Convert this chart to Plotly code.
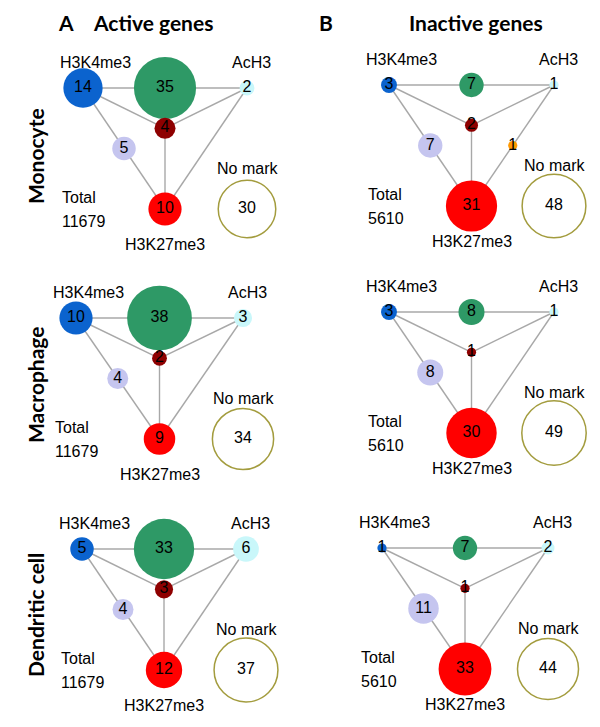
import plotly.graph_objects as go

# ---------------- data ----------------
node_names = ["H3K4me3", "H3K4me3+AcH3", "AcH3", "H3K4me3+AcH3+H3K27me3",
              "H3K4me3+H3K27me3", "AcH3+H3K27me3", "H3K27me3", "No mark"]
cell_types = ["Monocyte", "Macrophage", "Dendritic cell"]

active_monocyte = [14, 35, 2, 4, 5, 0, 10, 30]
active_macrophage = [10, 38, 3, 2, 4, 0, 9, 34]
active_dendritic = [5, 33, 6, 3, 4, 0, 12, 37]

inactive_monocyte = [3, 7, 1, 2, 7, 1, 31, 48]
inactive_macrophage = [3, 8, 1, 1, 8, 0, 30, 49]
inactive_dendritic = [1, 7, 2, 1, 11, 0, 33, 44]

total_active = 11679
total_inactive = 5610

column_titles = [("A", "Active genes"), ("B", "Inactive genes")]

# ---------------- style / layout ----------------
node_colors = ["#0B63CE", "#2E9966", "#C9F7FA", "#8E0000",
               "#C5C5EF", "#FF9900", "#FF0000", "#FFFFFF"]
edge_color = "#A8A8A8"
nomark_outline = "#A39C3E"
FONT = "Liberation Sans, Arial, sans-serif"
BOLD = "Lato, Open Sans, sans-serif"

# panel geometry: (x0, y0, width, height) of the triangle in page pixels
geom_active = [(83, 88, 164, 121), (76, 318, 167, 121), (82, 549, 164, 121)]
geom_inactive = [(389, 85, 165, 121), (389, 312, 165, 121), (382, 548, 166, 121)]
row_label_y = [156, 385, 615]

k_active = 5.25   # radius = k*sqrt(value)
k_inactive = 4.6

fig = go.Figure()


def node_positions(x0, y0, w, h):
    k4 = (x0, y0)
    ac = (x0 + w, y0)
    k27 = (x0 + w / 2, y0 + h)
    mid = lambda a, b: ((a[0] + b[0]) / 2, (a[1] + b[1]) / 2)
    tri = ((k4[0] + ac[0] + k27[0]) / 3, (k4[1] + ac[1] + k27[1]) / 3)
    return [k4, mid(k4, ac), ac, tri, mid(k4, k27), mid(ac, k27), k27, (x0 + w, y0 + h)]


def add_panel(values, geom, k, total):
    x0, y0, w, h = geom
    pos = node_positions(*geom)
    k4, _, ac, tri, _, _, k27, nm = pos
    # edges
    ex, ey = [], []
    for a, b in [(k4, ac), (k4, tri), (ac, tri), (tri, k27), (k4, k27), (ac, k27)]:
        ex += [a[0], b[0], None]
        ey += [a[1], b[1], None]
    fig.add_trace(go.Scatter(x=ex, y=ey, mode="lines",
                             line=dict(color=edge_color, width=1.4),
                             hoverinfo="skip"))
    idx = [i for i, v in enumerate(values) if v > 0]
    fig.add_trace(go.Scatter(
        x=[pos[i][0] for i in idx], y=[pos[i][1] for i in idx],
        mode="markers+text",
        text=[str(values[i]) for i in idx],
        textposition="middle center",
        textfont=dict(family=FONT, size=16, color="black"),
        hovertext=[node_names[i] for i in idx],
        marker=dict(size=[values[i] for i in idx], sizemode="area",
                    sizeref=1.0 / (2 * k * k),
                    color=[node_colors[i] for i in idx],
                    opacity=1,
                    line=dict(color=[nomark_outline if node_names[i] == "No mark" else "rgba(0,0,0,0)" for i in idx],
                              width=[1.5 if node_names[i] == "No mark" else 0 for i in idx])),
    ))
    lab = dict(font=dict(family=FONT, size=16, color="black"), showarrow=False,
               xref="x", yref="y", yanchor="middle")
    fig.add_annotation(x=x0 + 12, y=y0 - 26, text="H3K4me3", xanchor="center", **lab)
    fig.add_annotation(x=x0 + w + 4, y=y0 - 26, text="AcH3", xanchor="center", **lab)
    fig.add_annotation(x=nm[0], y=nm[1] - 41, text="No mark", xanchor="center", **lab)
    fig.add_annotation(x=x0 - 23, y=k27[1] - 12, text="Total", xanchor="left", **lab)
    fig.add_annotation(x=x0 - 23, y=k27[1] + 12, text=str(total), xanchor="left", **lab)
    fig.add_annotation(x=k27[0], y=k27[1] + 35, text="H3K27me3", xanchor="center", **lab)


for vals, g in zip([active_monocyte, active_macrophage, active_dendritic], geom_active):
    add_panel(vals, g, k_active, total_active)
for vals, g in zip([inactive_monocyte, inactive_macrophage, inactive_dendritic], geom_inactive):
    add_panel(vals, g, k_inactive, total_inactive)

bold = dict(font=dict(family=BOLD, size=21, color="black", weight="bold"), showarrow=False,
            xref="x", yref="y", yanchor="middle", xanchor="center")
fig.add_annotation(x=66, y=22, text="A", **bold)
fig.add_annotation(x=153, y=22, text=column_titles[0][1], **bold)
fig.add_annotation(x=326, y=22, text="B", **bold)
fig.add_annotation(x=476, y=22, text=column_titles[1][1], **bold)
for name, yy in zip(cell_types, row_label_y):
    fig.add_annotation(x=35, y=yy, text=name, textangle=-90, **bold)

fig.update_layout(
    width=600, height=727, margin=dict(l=0, r=0, t=0, b=0),
    paper_bgcolor="white", plot_bgcolor="white", showlegend=False,
    xaxis=dict(range=[0, 600], visible=False, fixedrange=True),
    yaxis=dict(range=[727, 0], visible=False, fixedrange=True),
)
fig.write_html("out.html", config={"displayModeBar": False},
               post_script="document.body.style.margin='0px';document.body.style.overflow='hidden';")
